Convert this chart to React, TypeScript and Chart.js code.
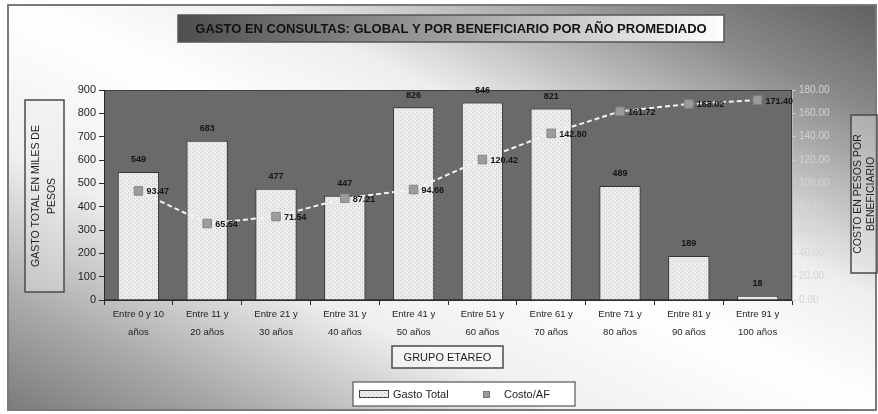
import React, { useEffect, useRef } from "react";
import { Chart, registerables } from "chart.js";

Chart.register(...registerables);

const W = 878;
const H = 414;
const FONT = "'Liberation Sans', Arial, sans-serif";

const chartTitle = "GASTO EN CONSULTAS: GLOBAL Y POR BENEFICIARIO POR AÑO PROMEDIADO";
const leftAxisTitle = ["GASTO TOTAL EN MILES DE", "PESOS"];
const rightAxisTitle = ["COSTO EN PESOS POR", "BENEFICIARIO"];
const xAxisTitle = "GRUPO ETAREO";
const seriesNames = ["Gasto Total", "Costo/AF"];

const categories: string[][] = [
  ["Entre 0 y 10", "años"],
  ["Entre 11 y", "20 años"],
  ["Entre 21 y", "30 años"],
  ["Entre 31 y", "40 años"],
  ["Entre 41 y", "50 años"],
  ["Entre 51 y", "60 años"],
  ["Entre 61 y", "70 años"],
  ["Entre 71 y", "80 años"],
  ["Entre 81 y", "90 años"],
  ["Entre 91 y", "100 años"],
];

const gastoTotal = [549, 683, 477, 447, 826, 846, 821, 489, 189, 18];
const costoAF = [93.47, 65.54, 71.54, 87.21, 94.66, 120.42, 142.8, 161.72, 168.02, 171.4];

const leftTicks = { min: 0, max: 900, step: 100 };
const rightTicks = { min: 0, max: 180, step: 20 };

function makePattern(): CanvasPattern | string {
  const c = document.createElement("canvas");
  c.width = 4;
  c.height = 4;
  const g = c.getContext("2d");
  if (!g) return "#e4e4e4";
  g.fillStyle = "#ececec";
  g.fillRect(0, 0, 4, 4);
  g.fillStyle = "#c6c6c6";
  g.fillRect(0, 0, 1, 1);
  g.fillRect(2, 2, 1, 1);
  const p = g.createPattern(c, "repeat");
  return p || "#e4e4e4";
}

export default function App() {
  const ref = useRef<HTMLCanvasElement>(null);

  useEffect(() => {
    document.body.style.margin = "0";
    const canvas = ref.current;
    if (!canvas) return;
    const pattern = makePattern();

    const decor = {
      id: "decor",
      beforeDraw(chart: any) {
        const ctx = chart.ctx as CanvasRenderingContext2D;
        const ca = chart.chartArea;
        ctx.save();
        ctx.fillStyle = "#ffffff";
        ctx.fillRect(0, 0, W, H);
        const grad = ctx.createLinearGradient(878, 0, 559, 677);
        grad.addColorStop(0, "#5e5e5e");
        grad.addColorStop(0.14, "#8a8a8a");
        grad.addColorStop(0.36, "#eeeeee");
        grad.addColorStop(0.5, "#ffffff");
        grad.addColorStop(0.68, "#efefef");
        grad.addColorStop(0.86, "#a8a8a8");
        grad.addColorStop(1, "#787878");
        ctx.fillStyle = grad;
        ctx.fillRect(8, 5, W - 10, H - 9);
        ctx.strokeStyle = "#7a7a7a";
        ctx.lineWidth = 2;
        ctx.strokeRect(8, 5, W - 10, H - 9);
        // plot area
        ctx.fillStyle = "#6a6a6a";
        ctx.fillRect(ca.left, ca.top, ca.right - ca.left, ca.bottom - ca.top);
        ctx.strokeStyle = "#3c3c3c";
        ctx.lineWidth = 1;
        ctx.strokeRect(ca.left + 0.5, ca.top + 0.5, ca.right - ca.left - 1, ca.bottom - ca.top - 1);
        ctx.restore();
      },
      afterDraw(chart: any) {
        const ctx = chart.ctx as CanvasRenderingContext2D;
        ctx.save();
        // Title box
        const tg = ctx.createLinearGradient(178, 0, 724, 0);
        tg.addColorStop(0, "#4e4e4e");
        tg.addColorStop(0.55, "#a8a8a8");
        tg.addColorStop(1, "#ffffff");
        ctx.fillStyle = tg;
        ctx.fillRect(178, 15, 546, 27);
        ctx.strokeStyle = "#555";
        ctx.lineWidth = 1.5;
        ctx.strokeRect(178, 15, 546, 27);
        ctx.fillStyle = "#111";
        ctx.textAlign = "center";
        ctx.textBaseline = "middle";
        ctx.font = `bold 11px ${FONT}`;
        const mw = ctx.measureText(chartTitle).width;
        const fs = Math.min(13, (11 * 530) / mw);
        ctx.font = `bold ${fs.toFixed(2)}px ${FONT}`;
        ctx.fillText(chartTitle, 451, 29);

        // Left axis title
        ctx.strokeStyle = "#4a4a4a";
        ctx.lineWidth = 1.5;
        ctx.fillStyle = "rgba(235,235,235,0.35)";
        ctx.fillRect(25, 100, 39, 192);
        ctx.strokeRect(25, 100, 39, 192);
        ctx.save();
        ctx.translate(44.5, 196);
        ctx.rotate(-Math.PI / 2);
        ctx.fillStyle = "#1e1e1e";
        ctx.font = `10.5px ${FONT}`;
        ctx.fillText(leftAxisTitle[0], 0, -8);
        ctx.fillText(leftAxisTitle[1], 0, 8);
        ctx.restore();

        // Right axis title
        ctx.fillStyle = "rgba(235,235,235,0.35)";
        ctx.fillRect(851, 115, 26, 158);
        ctx.strokeRect(851, 115, 26, 158);
        ctx.save();
        ctx.translate(864, 194);
        ctx.rotate(-Math.PI / 2);
        ctx.fillStyle = "#1e1e1e";
        ctx.font = `10.5px ${FONT}`;
        ctx.fillText(rightAxisTitle[0], 0, -6);
        ctx.fillText(rightAxisTitle[1], 0, 7);
        ctx.restore();

        // X axis title
        ctx.fillStyle = "rgba(250,250,250,0.6)";
        ctx.fillRect(392, 346, 111, 22);
        ctx.strokeRect(392, 346, 111, 22);
        ctx.fillStyle = "#1e1e1e";
        ctx.font = `11px ${FONT}`;
        ctx.fillText(xAxisTitle, 447.5, 357.5);

        // Legend
        ctx.fillStyle = "#ffffff";
        ctx.fillRect(353, 382, 222, 24);
        ctx.strokeStyle = "#555";
        ctx.lineWidth = 1.2;
        ctx.strokeRect(353, 382, 222, 24);
        ctx.fillStyle = pattern as any;
        ctx.fillRect(359, 390, 30, 8);
        ctx.strokeStyle = "#444";
        ctx.lineWidth = 1;
        ctx.strokeRect(359.5, 390.5, 29, 7);
        ctx.fillStyle = "#1e1e1e";
        ctx.textAlign = "left";
        ctx.font = `11px ${FONT}`;
        ctx.fillText(seriesNames[0], 393, 394.5);
        ctx.fillStyle = "#9a9a9a";
        ctx.fillRect(483, 391, 7, 7);
        ctx.strokeStyle = "#777";
        ctx.strokeRect(483.5, 391.5, 6, 6);
        ctx.fillStyle = "#1e1e1e";
        ctx.fillText(seriesNames[1], 504, 394.5);
        ctx.restore();
      },
      afterDatasetsDraw(chart: any) {
        const ctx = chart.ctx as CanvasRenderingContext2D;
        ctx.save();
        ctx.fillStyle = "#151515";
        ctx.font = `bold 9px ${FONT}`;
        ctx.textBaseline = "middle";
        ctx.textAlign = "center";
        const barMeta = chart.getDatasetMeta(0);
        barMeta.data.forEach((el: any, i: number) => {
          const p = el.getProps(["x", "y"], true);
          ctx.fillText(String(gastoTotal[i]), p.x, p.y - 12);
        });
        ctx.textAlign = "left";
        const lineMeta = chart.getDatasetMeta(1);
        lineMeta.data.forEach((el: any, i: number) => {
          const p = el.getProps(["x", "y"], true);
          ctx.fillText(costoAF[i].toFixed(2), p.x + 8, p.y + 1);
        });
        ctx.restore();
      },
    };

    const chart = new Chart(canvas, {
      type: "bar",
      data: {
        labels: categories,
        datasets: [
          {
            type: "bar",
            label: seriesNames[0],
            data: gastoTotal,
            yAxisID: "y",
            backgroundColor: pattern as any,
            borderColor: "#333333",
            borderWidth: 1,
            barPercentage: 0.6,
            categoryPercentage: 1,
            order: 2,
          },
          {
            type: "line",
            label: seriesNames[1],
            data: costoAF,
            yAxisID: "y1",
            borderColor: "#f2f2f2",
            borderWidth: 2,
            borderDash: [5, 3],
            pointStyle: "rect",
            pointRadius: 6,
            pointBackgroundColor: "#9c9c9c",
            pointBorderColor: "#858585",
            pointBorderWidth: 1,
            tension: 0,
            order: 1,
          } as any,
        ],
      },
      options: {
        responsive: false,
        animation: false,
        devicePixelRatio: 1,
        layout: { padding: { left: 8, right: 8, top: 90, bottom: 0 } },
        plugins: {
          legend: { display: false },
          tooltip: { enabled: false },
          title: { display: false },
        },
        scales: {
          x: {
            offset: true,
            grid: {
              offset: true,
              drawOnChartArea: false,
              drawTicks: true,
              tickLength: 5,
              color: "#2a2a2a",
            },
            border: { color: "#2a2a2a", width: 1 },
            ticks: {
              color: "#1e1e1e",
              font: { family: FONT, size: 9.5, lineHeight: 1.9 },
              padding: 0,
              maxRotation: 0,
              autoSkip: false,
            },
            afterFit: (s: any) => {
              s.height = 114;
            },
          },
          y: {
            position: "left",
            min: leftTicks.min,
            max: leftTicks.max,
            grid: { drawOnChartArea: false, tickLength: 5, color: "#2a2a2a" },
            border: { color: "#2a2a2a", width: 1 },
            ticks: {
              stepSize: leftTicks.step,
              color: "#1e1e1e",
              font: { family: FONT, size: 11 },
              padding: 3,
            },
            afterFit: (s: any) => {
              s.width = 96;
            },
          },
          y1: {
            position: "right",
            min: rightTicks.min,
            max: rightTicks.max,
            grid: { drawOnChartArea: false, tickLength: 4, color: "#cfcfcf" },
            border: { color: "#bdbdbd", width: 1 },
            ticks: {
              stepSize: rightTicks.step,
              color: "#d4d4d4",
              font: { family: FONT, size: 10 },
              padding: 3,
              callback: (v: any) => Number(v).toFixed(2),
            },
            afterFit: (s: any) => {
              s.width = 78;
            },
          },
        },
      },
      plugins: [decor],
    });

    return () => chart.destroy();
  }, []);

  return (
    <div style={{ width: W, height: H }}>
      <canvas ref={ref} width={W} height={H} style={{ display: "block" }} />
    </div>
  );
}
